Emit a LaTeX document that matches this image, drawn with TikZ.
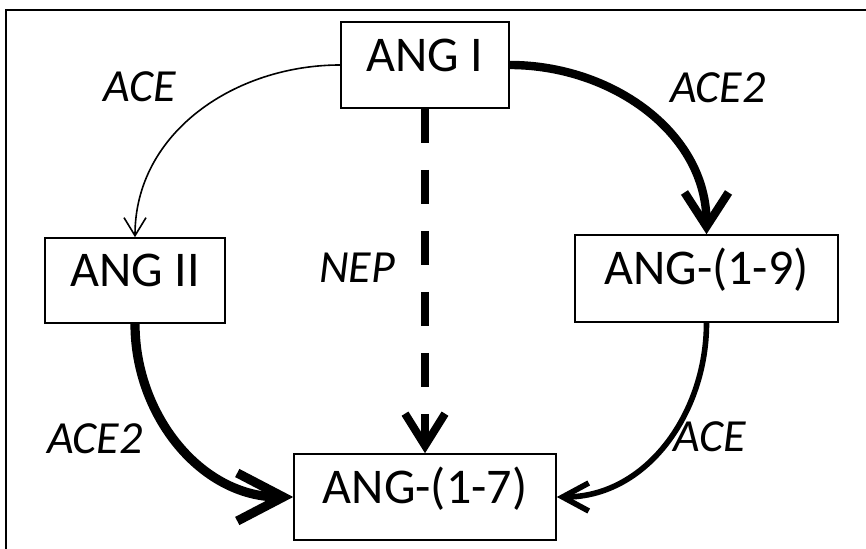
\documentclass[tikz,border=0pt]{standalone}
\usepackage{fontspec}
\setmainfont{Carlito}
\usetikzlibrary{arrows.meta}

\tikzset{
    peptide/.style={draw, line width=0.8pt, inner sep=0pt,
        font=\fontsize{25}{30}\selectfont, text height=0.64em, text depth=0pt},
    enzyme/.style={inner sep=0pt, font=\fontsize{23}{27}\selectfont\itshape,
        text height=0.64em, text depth=0pt},
}

\begin{document}
\begin{tikzpicture}[x=0.5pt, y=-0.5pt]

    \useasboundingbox (0,0) rectangle (866,549);

    % frame (only top and left edges show)
    \draw[line width=1pt] (6,549) -- (6,10) -- (866,10);

    % peptides
    \node[peptide, minimum width=84pt, minimum height=43pt] (angI) at (425,65) {ANG I};
    \node[peptide, minimum width=90pt, minimum height=42.5pt] (angII) at (135,280.5) {ANG II};
    \node[peptide, minimum width=131.5pt, minimum height=43.5pt] (ang19) at (706.5,278.5) {ANG-(1-9)};
    \node[peptide, minimum width=131pt, minimum height=43pt] (ang17) at (425,497) {ANG-(1-7)};

    % enzymes
    \node[enzyme] (aceTop) at (140,95) {ACE};
    \node[enzyme] (ace2Top) at (718,96) {ACE2};
    \node[enzyme] (nep) at (357,276) {NEP};
    \node[enzyme] (ace2Low) at (95,447) {ACE2};
    \node[enzyme] (aceLow) at (710,445) {ACE};

    % conversions
    \draw[line width=0.8pt, -{Straight Barb[length=9pt, width=11pt]}]
        (angI.west) to[out=180, in=90] (angII.north);
    \draw[line width=4.2pt, -{Straight Barb[length=17pt, width=22pt]}]
        (angI.east) to[out=0, in=90] (ang19.north);
    \draw[line width=4pt, dash pattern=on 17pt off 13.5pt,
        -{Straight Barb[length=16pt, width=20pt]}]
        (angI.south) -- (ang17.north);
    \draw[line width=4.6pt, -{Straight Barb[length=23pt, width=24pt]}]
        (angII.south) to[out=-90, in=180] (ang17.west);
    \draw[line width=2.8pt, -{Straight Barb[length=13pt, width=14pt]}]
        (ang19.south) to[out=-90, in=0] (ang17.east);

\end{tikzpicture}
\end{document}
